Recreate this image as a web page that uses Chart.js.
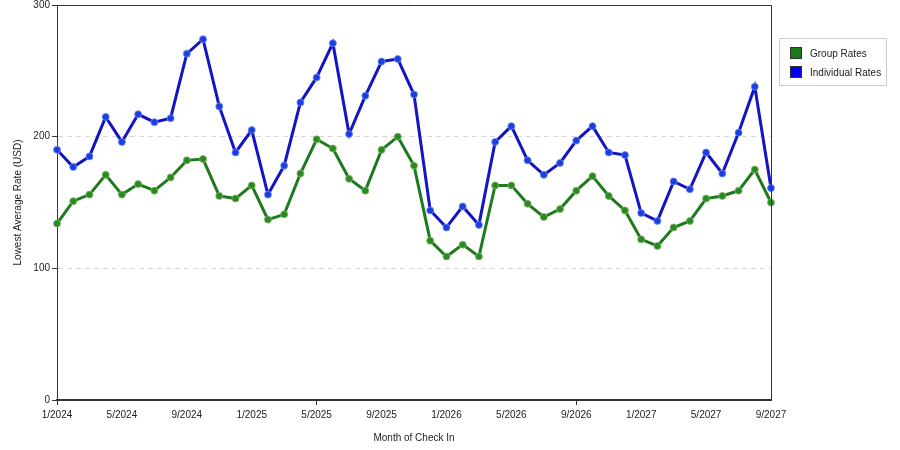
<!DOCTYPE html>
<html>
<head>
<meta charset="utf-8">
<script src="https://cdn.jsdelivr.net/npm/chart.js@4"></script>
<style>
  body { margin: 0; background: #fff; }
  #wrap { position: relative; width: 900px; height: 450px; }
  #legend {
    position: absolute; left: 779px; top: 38px; width: 108px; height: 48px;
    border: 1px solid #ccc; box-sizing: border-box;
    font: 10px "Liberation Sans", "DejaVu Sans", sans-serif; color: #222;
  }
  .item { position: absolute; left: 10px; height: 13px; line-height: 13px; }
  .sw { display: inline-block; width: 12px; height: 12px; border: 1px solid #333; vertical-align: top; box-sizing: border-box; margin-right: 8px; }
</style>
</head>
<body>
<div id="wrap">
  <canvas id="myChart" width="900" height="450"></canvas>
  <div id="legend">
    <div class="item" style="top:8px"><span class="sw" style="background:#1a7a1a"></span>Group Rates</div>
    <div class="item" style="top:27px"><span class="sw" style="background:#0000ee"></span>Individual Rates</div>
  </div>
</div>
<script>
// months 1/2024 .. 9/2027
meses = [];
for (let a = 2024; a <= 2027; a++) {
    for (let m = 1; m <= 12; m++) {
        if (a == 2027 && m > 9) break;
        meses.push(m + "/" + a);
    }
}

valoresGrupo = [134, 151, 156, 171, 156, 164, 159, 169, 182, 183, 155, 153,
    163, 137, 141, 172, 198, 191, 168, 159, 190, 200, 178, 121,
    109, 118, 109, 163, 163, 149, 139, 145, 159, 170, 155, 144,
    122, 117, 131, 136, 153, 155, 159, 175, 150];

valoresIndividual = [190, 177, 185, 215, 196, 217, 211, 214, 263, 274, 223, 188,
    205, 156, 178, 226, 245, 271, 202, 231, 257, 259, 232, 144,
    131, 147, 133, 196, 208, 182, 171, 180, 197, 208, 188, 186,
    142, 136, 166, 160, 188, 172, 203, 238, 161];

ticksY = [0, 100, 200, 300];

const moldura = {
    id: "moldura",
    afterDraw(chart) {
        const a = chart.chartArea;
        const c = chart.ctx;
        c.save();
        c.strokeStyle = "#333";
        c.lineWidth = 1;
        c.beginPath();
        c.moveTo(a.left, a.top + 0.5);
        c.lineTo(a.right + 0.5, a.top + 0.5);
        c.lineTo(a.right + 0.5, a.bottom);
        c.stroke();
        c.restore();
    }
};

const fonte = { family: "'Liberation Sans', 'DejaVu Sans', sans-serif", size: 10 };

const ctx = document.getElementById('myChart');
const chart = new Chart(ctx, {
    type: "line",
    data: {
        labels: meses,
        datasets: [{
            label: "Individual Rates",
            data: valoresIndividual,
            borderColor: "#1414c4",
            borderWidth: 3,
            pointRadius: 3.5,
            pointBackgroundColor: "#1a3ee0",
            pointBorderColor: "rgba(110,140,240,0.8)",
            pointBorderWidth: 1,
            tension: 0
        }, {
            label: "Group Rates",
            data: valoresGrupo,
            borderColor: "#1e7a1e",
            borderWidth: 3,
            pointRadius: 3.5,
            pointBackgroundColor: "#2a8a22",
            pointBorderColor: "rgba(130,180,100,0.8)",
            pointBorderWidth: 1,
            tension: 0
        }]
    },
    options: {
        responsive: false,
        animation: false,
        layout: { padding: { top: 5, right: 129, left: 0, bottom: 3 } },
        plugins: {
            legend: { display: false },
            tooltip: { enabled: false }
        },
        scales: {
            x: {
                offset: false,
                afterFit: (s) => { s.height = 47; },
                grid: {
                    drawOnChartArea: false,
                    drawTicks: true,
                    tickLength: 5,
                    tickColor: (c) => c.index % 4 == 0 ? "#333" : "rgba(0,0,0,0)"
                },
                border: { color: "#333", width: 2 },
                ticks: {
                    autoSkip: false,
                    maxRotation: 0,
                    color: "#222",
                    font: fonte,
                    padding: 4,
                    callback: function (v, i) { return i % 4 == 0 ? meses[i] : null; }
                },
                title: {
                    display: true,
                    text: "Month of Check In",
                    color: "#222",
                    font: fonte,
                    padding: { top: 3, bottom: 3 }
                }
            },
            y: {
                min: 0,
                max: 300,
                afterFit: (s) => { s.width = 57; },
                afterBuildTicks: (s) => { s.ticks = ticksY.map(v => ({ value: v })); },
                grid: {
                    color: (c) => (c.tick && (c.tick.value == 100 || c.tick.value == 200)) ? "#d8d8d8" : "rgba(0,0,0,0)",
                    drawTicks: true,
                    tickLength: 5,
                    tickColor: "#333"
                },
                border: { color: "#333", width: 1, dash: [5, 4] },
                ticks: {
                    color: "#222",
                    font: { family: fonte.family, size: 10, lineHeight: 0.5 },
                    padding: 2
                },
                title: {
                    display: true,
                    text: "Lowest Average Rate (USD)",
                    color: "#222",
                    font: fonte,
                    padding: { top: 12, bottom: 0 }
                }
            }
        }
    },
    plugins: [moldura]
});
</script>
</body>
</html>
